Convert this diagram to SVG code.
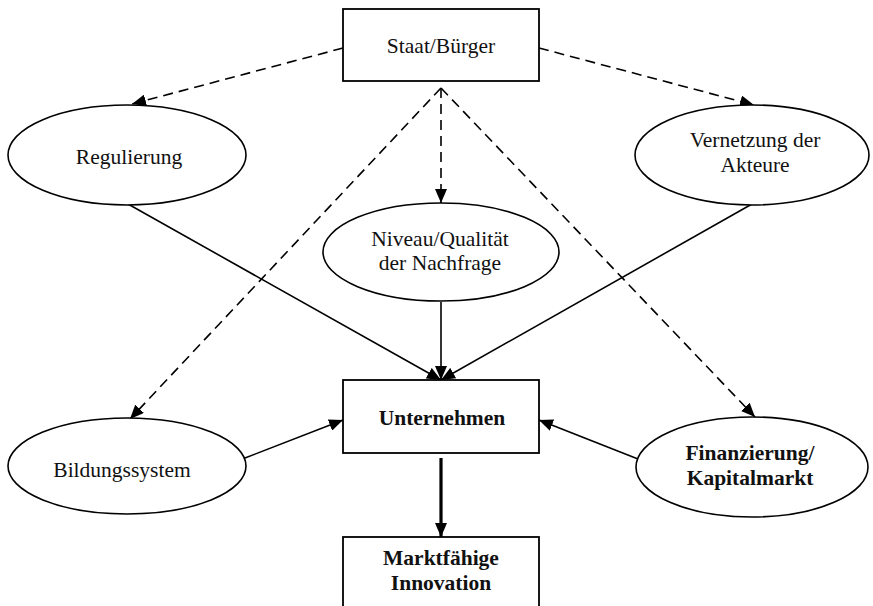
<svg xmlns="http://www.w3.org/2000/svg" width="873" height="606" viewBox="0 0 873 606">
<defs>
<style>
.box{fill:#fff;stroke:#000;stroke-width:1.8}
.ell{fill:#fff;stroke:#000;stroke-width:1.6}
.t{font-family:"Liberation Serif","Times New Roman",serif;font-size:21.5px;fill:#111;text-anchor:middle}
.b{font-weight:bold}
.ln{stroke:#000;stroke-width:1.6;fill:none}
.d{stroke-dasharray:10 6}
.thick{stroke-width:3.2}
</style>
<marker id="ah" markerUnits="userSpaceOnUse" viewBox="0 0 14 12" refX="14" refY="6" markerWidth="14" markerHeight="12" orient="auto">
<path d="M0,0 L14,6 L0,12 z" fill="#000"/>
</marker>
</defs>
<g id="connectors">
<line class="ln d" x1="343" y1="48" x2="132" y2="104" marker-end="url(#ah)"/>
<line class="ln d" x1="539" y1="48" x2="754" y2="105" marker-end="url(#ah)"/>
<line class="ln d" x1="441" y1="88" x2="441" y2="203" marker-end="url(#ah)"/>
<line class="ln d" x1="441" y1="88" x2="130" y2="419" marker-end="url(#ah)"/>
<line class="ln d" x1="441" y1="88" x2="755" y2="417" marker-end="url(#ah)"/>
<line class="ln" x1="128" y1="204" x2="441" y2="380" marker-end="url(#ah)"/>
<line class="ln" x1="752" y1="204" x2="441" y2="380" marker-end="url(#ah)"/>
<line class="ln" x1="441" y1="302" x2="441" y2="380" marker-end="url(#ah)"/>
<line class="ln" x1="245" y1="458" x2="343" y2="420" marker-end="url(#ah)"/>
<line class="ln" x1="638" y1="459" x2="539" y2="420" marker-end="url(#ah)"/>
<line class="ln thick" x1="441" y1="458" x2="441" y2="537" marker-end="url(#ah)"/>
</g>
<g id="staat">
<rect class="box" x="343" y="9" width="196" height="72"/>
<text class="t" x="441" y="53">Staat/Bürger</text>
</g>
<g id="regulierung">
<ellipse class="ell" cx="127" cy="155" rx="119" ry="50"/>
<text class="t" x="129" y="164">Regulierung</text>
</g>
<g id="vernetzung">
<ellipse class="ell" cx="752" cy="155" rx="117" ry="50"/>
<text class="t" x="755" y="147">Vernetzung der</text>
<text class="t" x="755" y="172">Akteure</text>
</g>
<g id="niveau">
<ellipse class="ell" cx="441" cy="252" rx="118" ry="49"/>
<text class="t" x="440" y="246">Niveau/Qualität</text>
<text class="t" x="440" y="270">der Nachfrage</text>
</g>
<g id="unternehmen">
<rect class="box" x="343" y="380" width="196" height="73"/>
<text class="t b" x="442" y="425">Unternehmen</text>
</g>
<g id="bildung">
<ellipse class="ell" cx="127" cy="466" rx="119" ry="48"/>
<text class="t" x="122" y="477">Bildungssystem</text>
</g>
<g id="finanzierung">
<ellipse class="ell" cx="752" cy="467" rx="116" ry="50"/>
<text class="t b" x="750" y="460">Finanzierung/</text>
<text class="t b" x="750" y="485">Kapitalmarkt</text>
</g>
<g id="markt">
<rect class="box" x="343" y="537" width="196" height="80"/>
<text class="t b" x="441" y="565">Marktfähige</text>
<text class="t b" x="441" y="590">Innovation</text>
</g>
</svg>
